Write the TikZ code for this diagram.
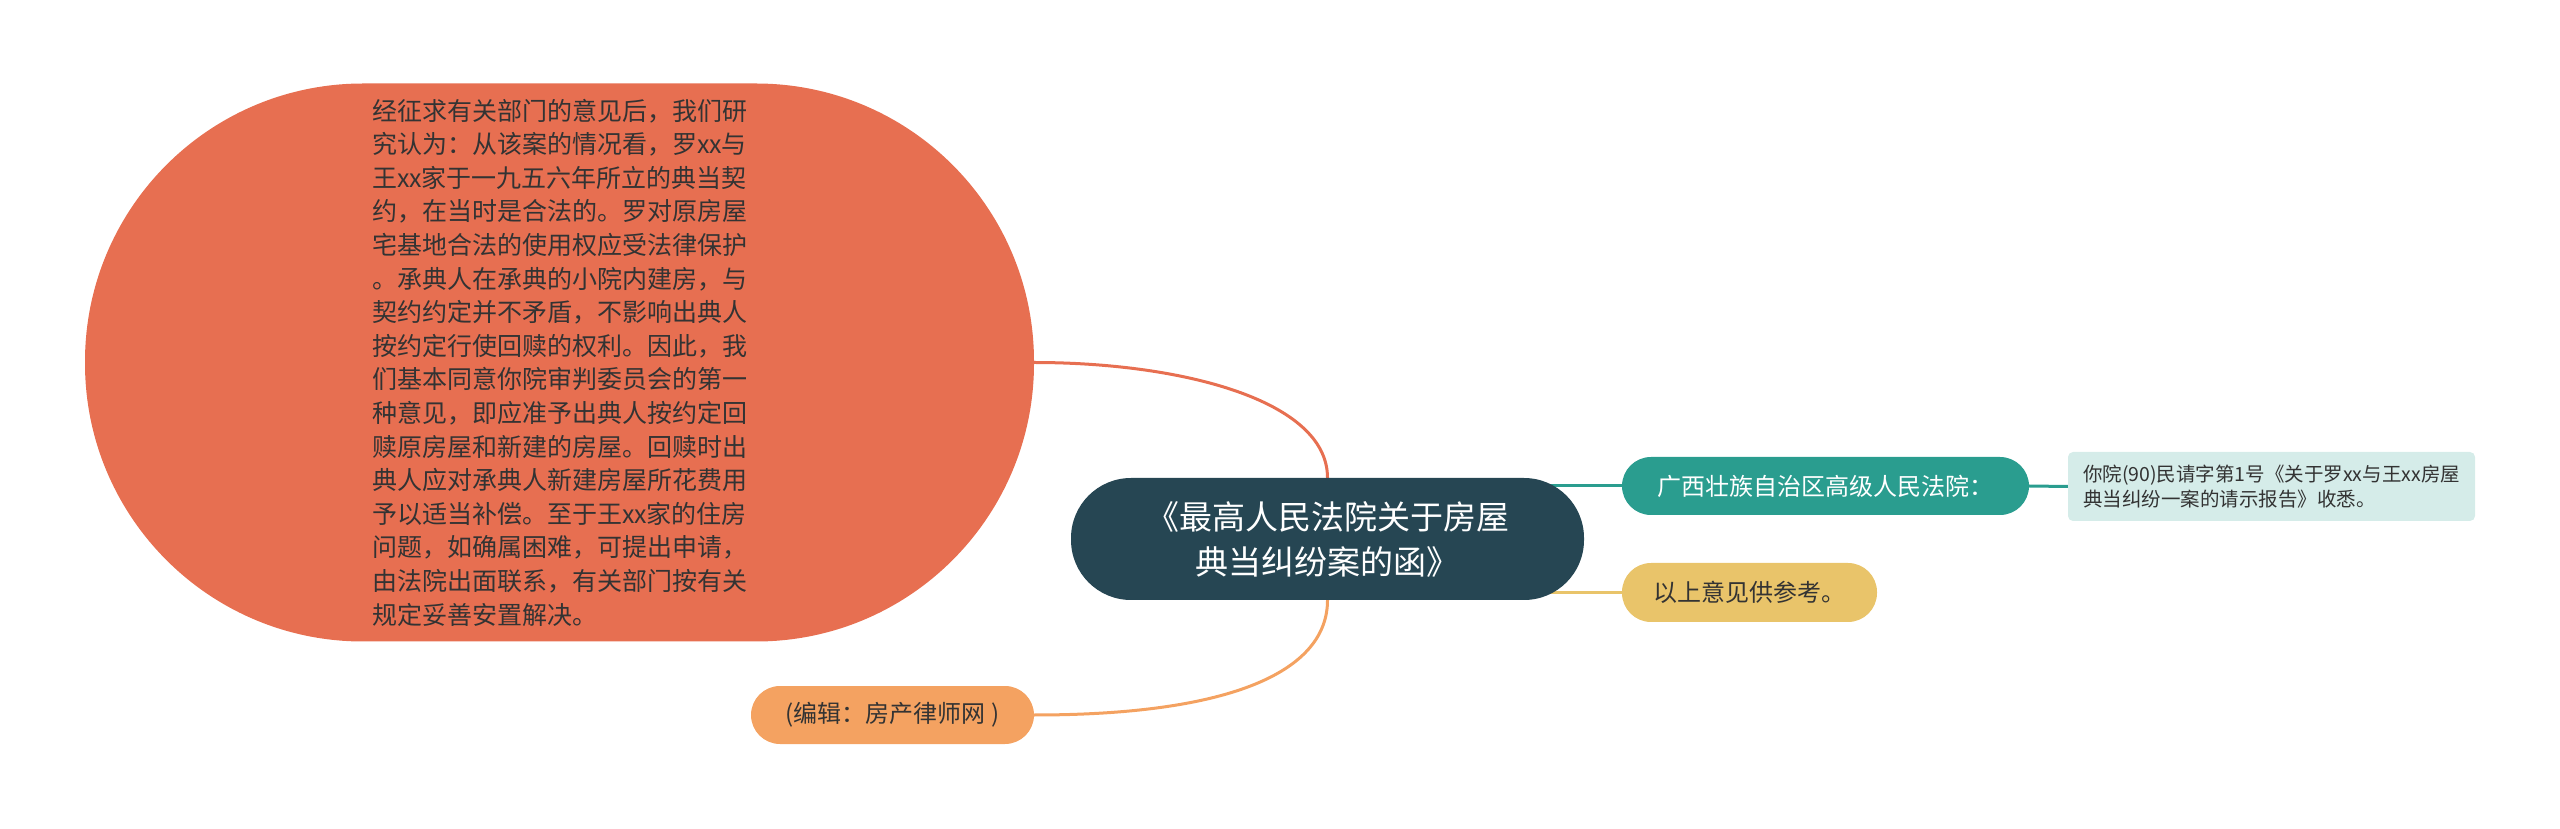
\documentclass[tikz,border=0pt]{standalone}
\usepackage{fontspec}
\setmainfont{Noto Sans CJK SC}
\usetikzlibrary{backgrounds}

\definecolor{opinioncol}{HTML}{E76F51}
\definecolor{topiccol}{HTML}{264653}
\definecolor{courtcol}{HTML}{2A9D8F}
\definecolor{replycol}{HTML}{D5ECE9}
\definecolor{closecol}{HTML}{E9C46A}
\definecolor{sourcecol}{HTML}{F4A261}
\definecolor{darktext}{HTML}{333333}

\begin{document}
\begin{tikzpicture}[x=1pt,y=1pt]

        \useasboundingbox (0,0) rectangle (2560,828);

        \begin{scope}[every node/.style={text=darktext,inner sep=0pt}]
          \node[fill=opinioncol,minimum width=949pt,minimum height=558pt,rounded corners=278pt,
                align=left,font=\fontsize{25}{33.6}\selectfont] (opinion) at (559.5,465.5)
            {经征求有关部门的意见后，我们研\\究认为：从该案的情况看，罗xx与\\王xx家于一九五六年所立的典当契\\约，在当时是合法的。罗对原房屋\\宅基地合法的使用权应受法律保护\\。承典人在承典的小院内建房，与\\契约约定并不矛盾，不影响出典人\\按约定行使回赎的权利。因此，我\\们基本同意你院审判委员会的第一\\种意见，即应准予出典人按约定回\\赎原房屋和新建的房屋。回赎时出\\典人应对承典人新建房屋所花费用\\予以适当补偿。至于王xx家的住房\\问题，如确属困难，可提出申请，\\由法院出面联系，有关部门按有关\\规定妥善安置解决。};
          \node[fill=topiccol,text=white,minimum width=513pt,minimum height=122pt,rounded corners=60pt,
                align=center,font=\fontsize{33}{45}\selectfont] (topic) at (1327.5,289)
            {《最高人民法院关于房屋\\典当纠纷案的函》};
          \node[fill=courtcol,text=white,minimum width=407pt,minimum height=58pt,rounded corners=29pt,
                font=\fontsize{24}{30}\selectfont] (court) at (1825.5,342) {广西壮族自治区高级人民法院：};
          \node[fill=replycol,minimum width=407pt,minimum height=69pt,rounded corners=5pt,
                align=left,font=\fontsize{19.5}{25}\selectfont] (reply) at (2271.5,341.5)
            {你院(90)民请字第1号《关于罗xx与王xx房屋\\典当纠纷一案的请示报告》收悉。};
          \node[fill=closecol,minimum width=255pt,minimum height=59pt,rounded corners=29pt,
                font=\fontsize{24}{30}\selectfont] (close) at (1749.5,235.5) {以上意见供参考。};
          \node[fill=sourcecol,minimum width=283pt,minimum height=58pt,rounded corners=29pt,
                font=\fontsize{24}{30}\selectfont] (source) at (892.5,113) {(编辑：房产律师网 )};
        \end{scope}

        \begin{scope}[on background layer,every edge/.style={draw,line width=3pt}]
          \path (topic.north) edge[draw=opinioncol,out=90,in=0,out distance=78pt,in distance=146pt] (opinion.east);
          \path (topic.south) edge[draw=sourcecol,out=-90,in=0,out distance=70pt,in distance=200pt] (source.east);
          \path (topic.center |- court.west) edge[draw=courtcol] (court.west);
          \path (topic.center |- close.west) edge[draw=closecol] (close.west);
          \path (court.east) edge[draw=courtcol] (reply.west);
        \end{scope}

      \end{tikzpicture}
\end{document}
